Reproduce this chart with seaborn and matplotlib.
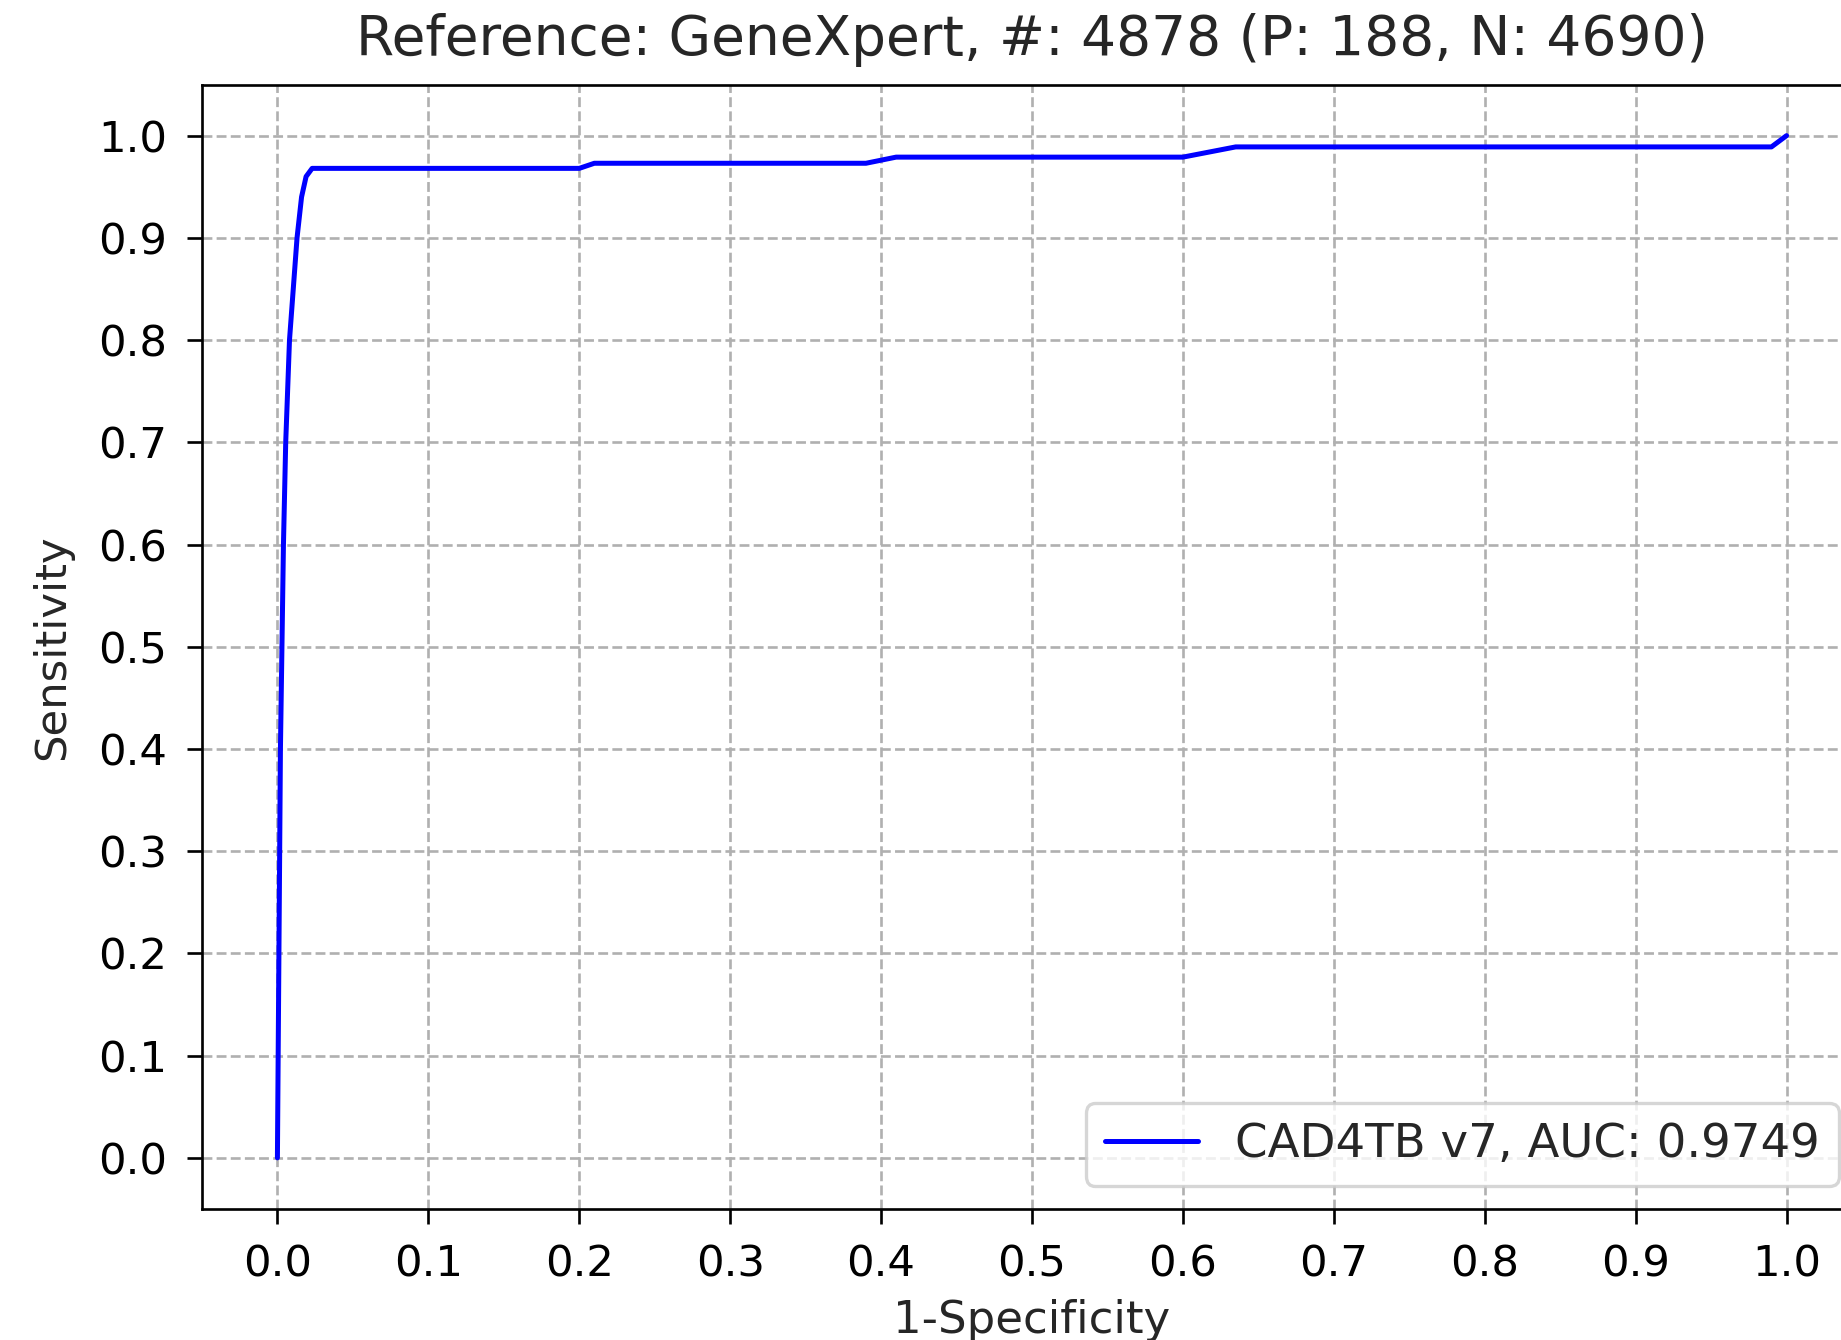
import numpy as np
import pandas as pd
import matplotlib
matplotlib.use('Agg')
import matplotlib.pyplot as plt
import seaborn as sns

# ROC curve
fpr = [0.0, 0.0005, 0.001, 0.0015, 0.002, 0.003, 0.004, 0.0055, 0.008, 0.0105,
       0.013, 0.016, 0.019, 0.023, 0.2, 0.21, 0.39, 0.41, 0.6, 0.635, 0.99, 1.0]
tpr = [0.0, 0.1, 0.2, 0.3, 0.4, 0.5, 0.6, 0.7, 0.8, 0.85,
       0.9, 0.94, 0.96, 0.968, 0.968, 0.973, 0.973, 0.979, 0.979, 0.989, 0.989, 1.0]
curve_label = 'CAD4TB v7, AUC: 0.9749'
title = 'Reference: GeneXpert, #: 4878 (P: 188, N: 4690)'
ticks = [round(0.1 * i, 1) for i in range(11)]

df = pd.DataFrame({'fpr': fpr, 'tpr': tpr})

sns.set_style('white')
plt.rcParams['font.family'] = ['DejaVu Sans']

dpi = 240
fig = plt.figure(figsize=(1841 / dpi, 1340 / dpi), dpi=dpi)
ax = fig.add_axes([0.1097, 0.0978, 0.9017, 0.8391])

sns.lineplot(data=df, x='fpr', y='tpr', color='blue', linewidth=1.5,
             estimator=None, sort=False, label=curve_label, ax=ax)

ax.set_xlim(-0.05, 1.05)
ax.set_ylim(-0.05, 1.05)
ax.set_xticks(ticks)
ax.set_yticks(ticks)
ax.tick_params(axis='both', labelsize=13, direction='out', length=4.5, width=0.8,
               pad=6, left=True, bottom=True, colors='black')
for s in ax.spines.values():
    s.set_color('black')
    s.set_linewidth(0.8)
ax.grid(True, linestyle='--', color='#b0b0b0', linewidth=0.8)
ax.set_xlabel('1-Specificity', fontsize=13.5, labelpad=4)
ax.set_ylabel('Sensitivity', fontsize=13, labelpad=7.5)
ax.set_title(title, fontsize=16.5, pad=9)
ax.legend(loc='lower right', fontsize=14)

fig.savefig('out.png', dpi=dpi)
